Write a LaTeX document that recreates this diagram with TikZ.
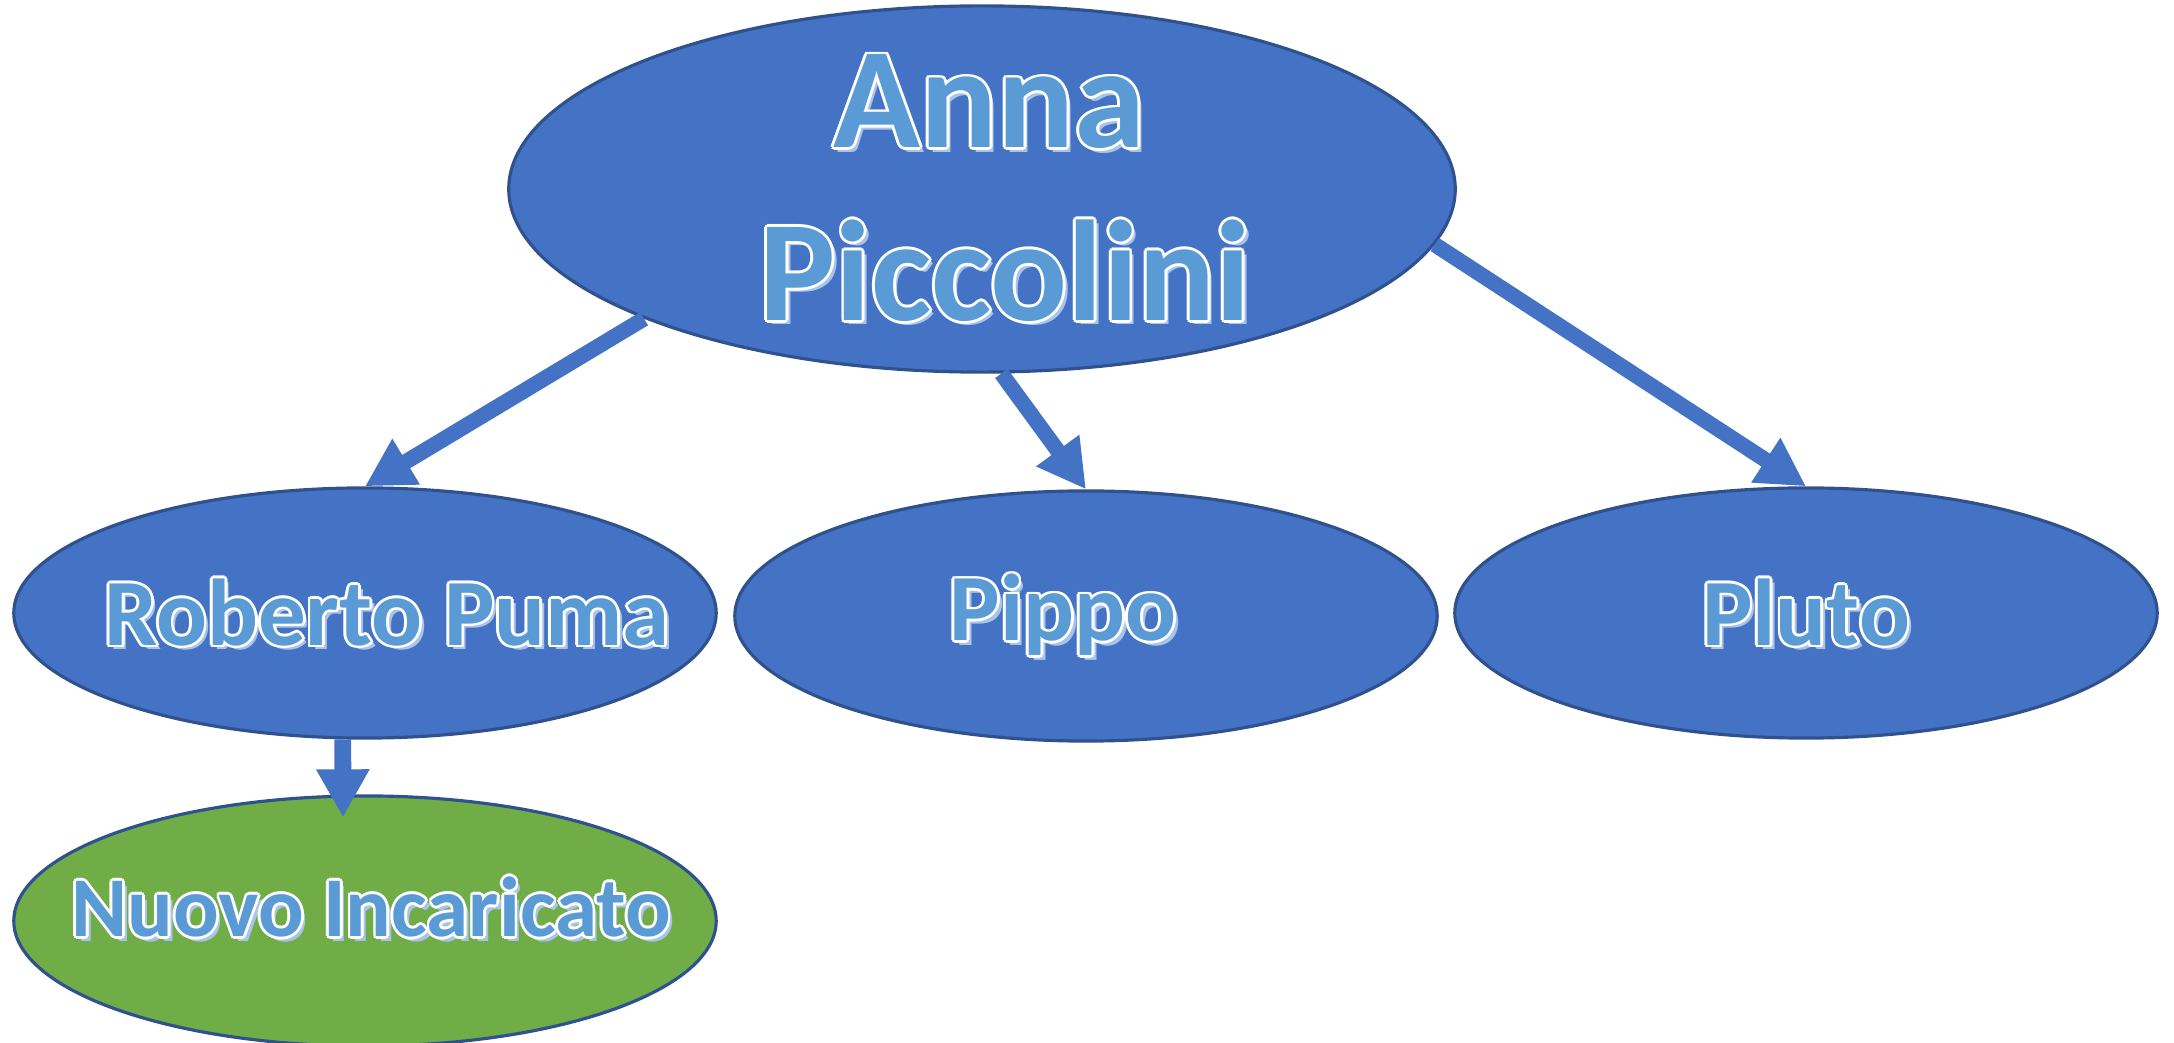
\documentclass[tikz,border=0pt]{standalone}
\usepackage{fontspec}
\setmainfont{Carlito}
\usetikzlibrary{shapes.geometric,arrows.meta,calc}

\definecolor{blu}{HTML}{4472C4}
\definecolor{blubordo}{HTML}{2F528F}
\definecolor{verde}{HTML}{70AD47}
\definecolor{celeste}{HTML}{5B9BD5}
\definecolor{ombra}{HTML}{A9C4EB}

% testo con bordo bianco e ombra
\newcommand\copia[3]{\rlap{\kern#1\raisebox{#2}{\color{white}#3}}}
\newcommand\scritta[1]{%
  \rlap{\kern1.3pt\raisebox{-1.3pt}{\color{ombra}#1}}%
  \copia{0.8pt}{0pt}{#1}\copia{-0.8pt}{0pt}{#1}%
  \copia{0pt}{0.8pt}{#1}\copia{0pt}{-0.8pt}{#1}%
  \copia{0.57pt}{0.57pt}{#1}\copia{-0.57pt}{0.57pt}{#1}%
  \copia{0.57pt}{-0.57pt}{#1}\copia{-0.57pt}{-0.57pt}{#1}%
  {\color{celeste}#1}}

\begin{document}
\begin{tikzpicture}[x=0.01cm, y=-0.01cm,
    bolla/.style={ellipse, draw=blubordo, line width=0.9pt, fill=blu, inner sep=0pt,
                  minimum width=7.02cm, minimum height=2.5cm},
    nome/.style={font=\fontsize{27}{32}\selectfont\bfseries},
    freccia/.style={draw=blu, line width=4.4pt, -{Triangle[width=0.5cm,length=0.48cm]}}]
  \useasboundingbox (0,0) rectangle (2174,1043);

  \node[bolla, minimum width=9.46cm, minimum height=3.66cm](anna) at (982,189)
    [label={[align=center, xshift=0.23cm, font=\fontsize{40.8}{49}\selectfont\bfseries]center:\scritta{Anna}\kern9pt\\\scritta{Piccolini}}] {};
  \node[bolla](roberto) at (365,613) [label={[nome, xshift=0.22cm]center:\scritta{Roberto Puma}}] {};
  \node[bolla](pippo)   at (1086,616) [label={[nome, xshift=-0.23cm]center:\scritta{Pippo}}] {};
  \node[bolla](pluto)   at (1806,613) [label={[nome]center:\scritta{Pluto}}] {};
  \node[bolla, fill=verde](nuovo) at (365,921) [label={[nome, font=\fontsize{24.2}{29}\selectfont\bfseries, xshift=0.06cm, yshift=0.13cm]center:\scritta{Nuovo Incaricato}}] {};

  \coordinate (puntaN) at ($(nuovo.north)+(-22,23)$);

  \path
    (anna.201) edge[freccia] (roberto.north)
    (anna.276) edge[freccia] (pippo.north)
    (anna.353) edge[freccia] (pluto.north)
    (roberto.260) edge[freccia, line width=4.8pt] (puntaN)
    ;
\end{tikzpicture}
\end{document}
